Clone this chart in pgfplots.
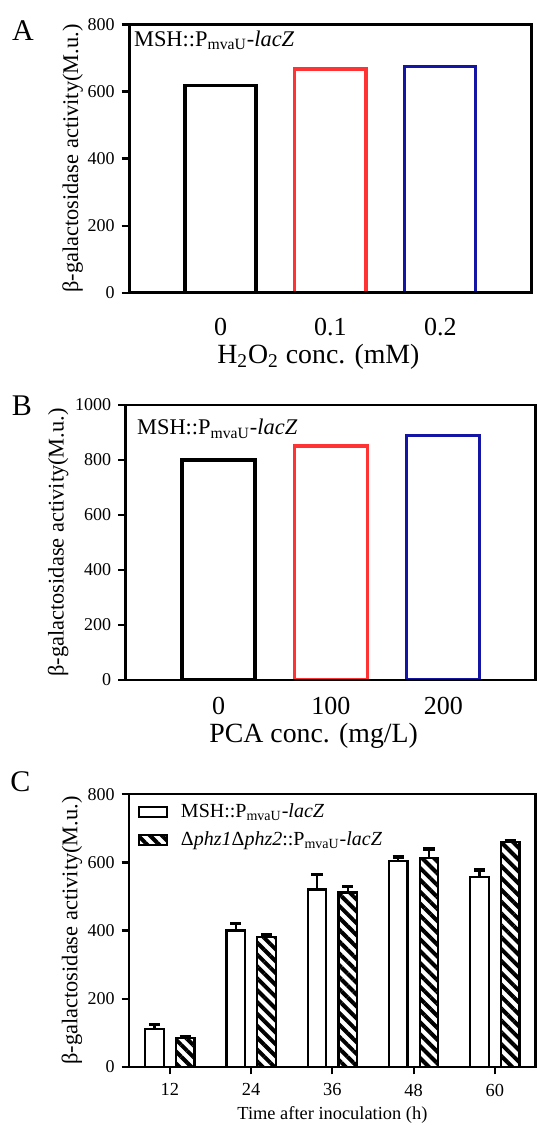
\documentclass[border=0pt]{standalone}
\usepackage{pgfplots}
\pgfplotsset{compat=1.18}
\usepackage{fontspec}
\setmainfont{Liberation Serif}
\usetikzlibrary{patterns.meta}

\definecolor{barred}{RGB}{255,51,51}
\definecolor{barblue}{RGB}{20,20,165}

\pgfplotsset{
  panel/.style={
    scale only axis,
    anchor=south west,
    axis on top,
    ymin=0,
    tick align=outside,
    tick pos=left,
    major tick length=3.8pt,
    tick style={line width=1.1pt, black},
    /pgf/number format/assume math mode=true,
    /pgf/number format/1000 sep={},
    yticklabel style={font=\fontsize{9}{11}\selectfont},
    ylabel={β-galactosidase activity(M.u.)},
    ylabel style={font=\fontsize{11.2}{13}\selectfont, anchor=center},
  },
  boxlegend/.style={legend image code/.code={%
    \draw[##1, line width=1.15pt] (0pt,-2.4pt) rectangle (14pt,2.4pt);}},
}

\begin{document}
\begin{tikzpicture}
\useasboundingbox (0,0) rectangle (268pt,562.5pt);

% panel A
\begin{axis}[panel,
  at={(64.65pt,416.15pt)}, width=201.1pt, height=134.1pt,
  axis line style={line width=1.4pt},
  ymax=800, ytick={0,200,400,600,800},
  xmin=-0.83, xmax=2.83, xtick={0,1,2}, xticklabels={0,0.1,0.2},
  xtick style={draw=none},
  xticklabel style={font=\fontsize{13}{15}\selectfont},
  xticklabel shift=5.5pt,
  xlabel={H\textsubscript{2}O\textsubscript{2} conc. (mM)},
  xlabel style={at={(axis description cs:0.5,0)}, anchor=base,
    yshift=-35.2pt, xshift=-6pt, font=\fontsize{13.9}{16}\selectfont},
  ylabel style={at={(axis description cs:-0.141,0.5)}},
  ybar, bar width=0.647,
]
\addplot[bar shift=0pt, draw=black, fill=white, line width=1.6pt] coordinates {(0,617)};
\addplot[bar shift=0pt, draw=barred, fill=white, line width=1.6pt] coordinates {(1,667)};
\addplot[bar shift=0pt, draw=barblue, fill=white, line width=1.6pt] coordinates {(2,674)};
\node[anchor=base west, inner sep=0pt, font=\fontsize{11.2}{13}\selectfont]
  at (rel axis cs:0,1) [xshift=2.2pt, yshift=-11.1pt] {MSH::P\textsubscript{mvaU}-\textit{lacZ}};
\end{axis}

% panel B
\begin{axis}[panel,
  at={(62.9pt,222.5pt)}, width=204.85pt, height=137.5pt,
  axis line style={line width=1.35pt},
  ymax=1000, ytick={0,200,400,600,800,1000},
  xmin=-0.825, xmax=2.82, xtick={0,1,2}, xticklabels={0,100,200},
  xtick style={draw=none},
  xticklabel style={font=\fontsize{13}{15}\selectfont},
  xticklabel shift=1.5pt,
  xlabel={PCA conc. (mg/L)},
  xlabel style={at={(axis description cs:0.5,0)}, anchor=base,
    yshift=-31.3pt, xshift=-8.5pt, font=\fontsize{13.9}{16}\selectfont},
  ylabel style={at={(axis description cs:-0.165,0.5)}},
  ybar, bar width=0.65,
]
\addplot[bar shift=0pt, draw=black, fill=white, line width=1.6pt] coordinates {(0,800)};
\addplot[bar shift=0pt, draw=barred, fill=white, line width=1.6pt] coordinates {(1,851)};
\addplot[bar shift=0pt, draw=barblue, fill=white, line width=1.6pt] coordinates {(2,890)};
\node[anchor=base west, inner sep=0pt, font=\fontsize{11.2}{13}\selectfont]
  at (rel axis cs:0,1) [xshift=5.5pt, yshift=-15pt] {MSH::P\textsubscript{mvaU}-\textit{lacZ}};
\end{axis}

% panel C
\begin{axis}[panel,
  at={(64.65pt,29.15pt)}, width=203.1pt, height=136.2pt,
  axis line style={line width=1.15pt},
  ymax=800, ytick={0,200,400,600,800},
  xmin=-0.5, xmax=4.5, xtick={0,1,2,3,4}, xticklabels={12,24,36,48,60},
  xticklabel style={font=\fontsize{9.2}{11}\selectfont},
  xticklabel shift=1.2pt,
  xlabel={Time after inoculation (h)},
  xlabel style={at={(axis description cs:0.5,0)}, anchor=base,
    yshift=-26.2pt, font=\fontsize{9.2}{11}\selectfont},
  ylabel style={at={(axis description cs:-0.1416,0.5)}},
  ybar, bar width=9.3pt,
  legend cell align=left,
  legend style={draw=none, fill=none, at={(axis description cs:0,1)}, anchor=north west,
    xshift=4pt, yshift=-2.5pt, inner sep=0pt, row sep=1.5pt,
    font=\fontsize{10}{12}\selectfont,
    /tikz/every odd column/.append style={column sep=4.5pt}},
]
\addplot[bar shift=-7.7pt, draw=black, fill=white, line width=1.15pt, boxlegend,
  error bars/.cd, y dir=plus, y explicit,
  error bar style={line width=1.1pt, black},
  error mark options={rotate=90, line width=1.8pt, mark size=2.8pt, black}]
  coordinates {(0,110) +- (0,14) (1,400) +- (0,21) (2,520) +- (0,45) (3,605) +- (0,10) (4,557) +- (0,21)};
\addlegendentry{MSH::P\textsubscript{mvaU}-\textit{lacZ}}
\addplot[bar shift=7.7pt, draw=black, line width=1.15pt, fill=white,
  postaction={pattern={Lines[angle=-45,distance=4.2pt,line width=2pt]}, pattern color=black},
  boxlegend,
  error bars/.cd, y dir=plus, y explicit,
  error bar style={line width=1.1pt, black},
  error mark options={rotate=90, line width=1.8pt, mark size=2.8pt, black}]
  coordinates {(0,85) +- (0,4) (1,380) +- (0,6) (2,512) +- (0,17) (3,612) +- (0,28) (4,659) +- (0,4)};
\addlegendentry{Δ\textit{phz1}Δ\textit{phz2}::P\textsubscript{mvaU}-\textit{lacZ}}
\end{axis}

\node[font=\fontsize{15}{17}\selectfont] at (11.5pt,547pt) {A};
\node[font=\fontsize{15}{17}\selectfont] at (11pt,359.5pt) {B};
\node[font=\fontsize{15}{17}\selectfont] at (10.25pt,171.5pt) {C};
\end{tikzpicture}
\end{document}
